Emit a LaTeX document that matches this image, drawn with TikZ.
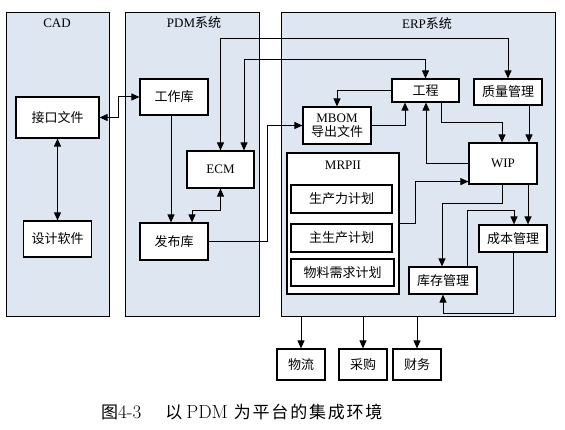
\documentclass[tikz,border=0pt]{standalone}
\usepackage{fontspec}
\setmainfont{Liberation Serif}
\newfontfamily\cjk{Noto Sans CJK SC}
\newfontfamily\lmr{Latin Modern Roman}
\newcommand\capgap{\hspace{1.8pt}}
\usetikzlibrary{arrows.meta,calc}
\definecolor{panelfill}{RGB}{222,230,242}
\begin{document}
\begin{tikzpicture}[x=1pt,y=-1pt,
  panel/.style={draw, line width=1.2pt, fill=panelfill, inner sep=0pt, anchor=north west},
  box/.style={draw, fill=white, line width=1.2pt, inner sep=0pt, font=\cjk\fontsize{13}{15}\selectfont, align=center},
  conn/.style={line width=1pt, -{Triangle[length=8pt,width=7pt]}},
  conn2/.style={line width=1pt, {Triangle[length=8pt,width=7pt]}-{Triangle[length=8pt,width=7pt]}},
  ttl/.style={font=\fontsize{13}{15}\selectfont}
]
\useasboundingbox (0,0) rectangle (565,430);
% panels
\node[panel, minimum width=103pt, minimum height=304pt] (cad) at (6,12) {};
\node[panel, minimum width=134pt, minimum height=304pt] (pdm) at (125,12) {};
\node[panel, minimum width=274pt, minimum height=304pt] (erp) at (281,12) {};
\node[ttl] (cadt) at (57,23) {CAD};
\node[ttl] (pdmt) at (194,23) {PDM{\cjk 系统}};
\node[ttl] (erpt) at (427,24) {ERP{\cjk 系统}};
% CAD
\node[box, minimum width=83pt, minimum height=41pt] (jk) at (57.5,117.5) {接口文件};
\node[box, minimum width=68pt, minimum height=36pt] (sj) at (57.5,239) {设计软件};
% PDM
\node[box, minimum width=68pt, minimum height=36pt] (gzk) at (174,97) {工作库};
\node[box, minimum width=67pt, minimum height=37pt] (ecm) at (220.5,169.5) {\rmfamily ECM};
\node[box, minimum width=68pt, minimum height=37pt] (fbk) at (174,241.5) {发布库};
% ERP
\node[box, minimum width=67pt, minimum height=23pt] (gc) at (425.5,90.5) {工程};
\node[box, minimum width=68pt, minimum height=26pt] (zl) at (508,92) {质量管理};
\node[box, minimum width=68pt, minimum height=37pt, font=\cjk\fontsize{13}{14}\selectfont] (mbom) at (337,125.5) {{\rmfamily MBOM}\\导出文件};
\node[box, minimum width=68pt, minimum height=41pt] (wip) at (503,163.5) {\rmfamily WIP};
\node[box, minimum width=112pt, minimum height=141pt] (mrp) at (343,223.5) {};
\node[ttl] (mrpt) at (343,165) {MRPII};
\node[box, minimum width=101pt, minimum height=28pt] (p1) at (341.5,199) {生产力计划};
\node[box, minimum width=101pt, minimum height=28pt] (p2) at (341.5,238) {主生产计划};
\node[box, minimum width=103pt, minimum height=27pt] (p3) at (342.5,272.5) {物料需求计划};
\node[box, minimum width=68pt, minimum height=27pt] (cb) at (513,238.5) {成本管理};
\node[box, minimum width=68pt, minimum height=27pt] (kc) at (443,280.5) {库存管理};
% outside
\node[box, minimum width=48pt, minimum height=31pt] (wl) at (301,364.5) {物流};
\node[box, minimum width=48pt, minimum height=31pt] (cg) at (363,364.5) {采购};
\node[box, minimum width=48pt, minimum height=31pt] (cw) at (417,364.5) {财务};
% connectors
\draw[conn2] (jk.south) -- (sj.north);
\draw[conn2] (jk.east) -- ++(19,0) |- (gzk.west);
\draw[conn] ([xshift=-3pt]gzk.south) -- ([xshift=-3pt]fbk.north);
\draw[conn2] (ecm.south) -- ++(0,22) -| ([xshift=18pt]fbk.north);
\draw[conn2] (zl.north) -- ++(0,-40) -| (ecm.north);
\draw[conn2] (gc.north) -- ++(0,-19) -| ([xshift=23.5pt]ecm.north);
\draw[conn] (fbk.east) -- ++(59,0) |- (mbom.west);
\draw[conn] (gc.west) -| (mbom.north);
\draw[conn] (mbom.east) -| ([xshift=-20.5pt]gc.south);
\draw[conn] ([xshift=15.5pt]gc.south) -- ++(0,20) -| ([xshift=-1pt]wip.north);
\draw[conn] ([xshift=21pt]zl.south) -- ([xshift=26pt]wip.north);
\draw[conn] (wip.west) -| ([xshift=0.5pt]gc.south);
\draw[conn] (mrp.east) -- ++(16,0) |- ([yshift=3pt]wip.south west);
\draw[conn] ([xshift=-1pt]wip.south) -- ++(0,19) -| ([xshift=-1pt]kc.north);
\draw[conn] ([xshift=25pt]wip.south) -- ([xshift=15pt]cb.north);
\draw[conn] ([xshift=24pt]kc.north) -- ++(0,-56) -| ([xshift=1pt]cb.north);
\draw[conn] (cb.south) -- ++(0,61) -| (kc.south);
\draw[conn] (wl.north |- erp.south) -- (wl.north);
\draw[conn] (cg.north |- erp.south) -- (cg.north);
\draw[conn] (cw.north |- erp.south) -- (cw.north);
% caption
\node[anchor=west, font=\fontsize{17}{19}\selectfont, inner sep=0pt] (cap) at (101,412) {{\cjk 图}{\lmr\fontsize{19}{20}\selectfont 4-3}\hspace{24pt}{\cjk 以}\hspace{4pt}{\lmr\fontsize{19}{20}\selectfont PDM}\hspace{6pt}{\cjk 为\capgap 平\capgap 台\capgap 的\capgap 集\capgap 成\capgap 环\capgap 境}};
\end{tikzpicture}
\end{document}
